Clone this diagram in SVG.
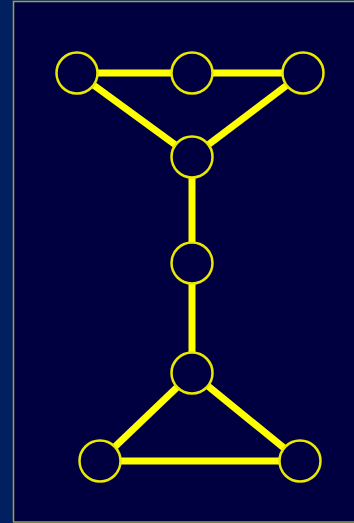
<svg xmlns="http://www.w3.org/2000/svg" width="354" height="523" viewBox="0 0 354 523">
<style>
.edge{stroke:#ffff00;stroke-width:7;fill:none}
.node{fill:#000040;stroke:#e8e800;stroke-width:2.5}
</style>
<rect x="0" y="0" width="354" height="523" fill="#002060"/>
<rect x="13.5" y="1.5" width="350" height="520.5" fill="#000040" stroke="#a0a040" stroke-width="1.5"/>
<g id="connectors">
<line class="edge" x1="77" y1="73" x2="192" y2="73"/>
<line class="edge" x1="192" y1="73" x2="303" y2="73"/>
<line class="edge" x1="77" y1="73" x2="192" y2="157"/>
<line class="edge" x1="303" y1="73" x2="192" y2="157"/>
<line class="edge" x1="192" y1="157" x2="192" y2="263"/>
<line class="edge" x1="192" y1="263" x2="192" y2="373"/>
<line class="edge" x1="192" y1="373" x2="100" y2="461"/>
<line class="edge" x1="192" y1="373" x2="300" y2="461"/>
<line class="edge" x1="100" y1="461" x2="300" y2="461"/>
</g>
<g id="n1"><circle class="node" cx="77" cy="73" r="20.5"/></g>
<g id="n2"><circle class="node" cx="192" cy="73" r="20.5"/></g>
<g id="n3"><circle class="node" cx="303" cy="73" r="20.5"/></g>
<g id="n4"><circle class="node" cx="192" cy="157" r="20.5"/></g>
<g id="n5"><circle class="node" cx="192" cy="263" r="20.5"/></g>
<g id="n6"><circle class="node" cx="192" cy="373" r="20.5"/></g>
<g id="n7"><circle class="node" cx="100" cy="461" r="20.5"/></g>
<g id="n8"><circle class="node" cx="300" cy="461" r="20.5"/></g>
</svg>
